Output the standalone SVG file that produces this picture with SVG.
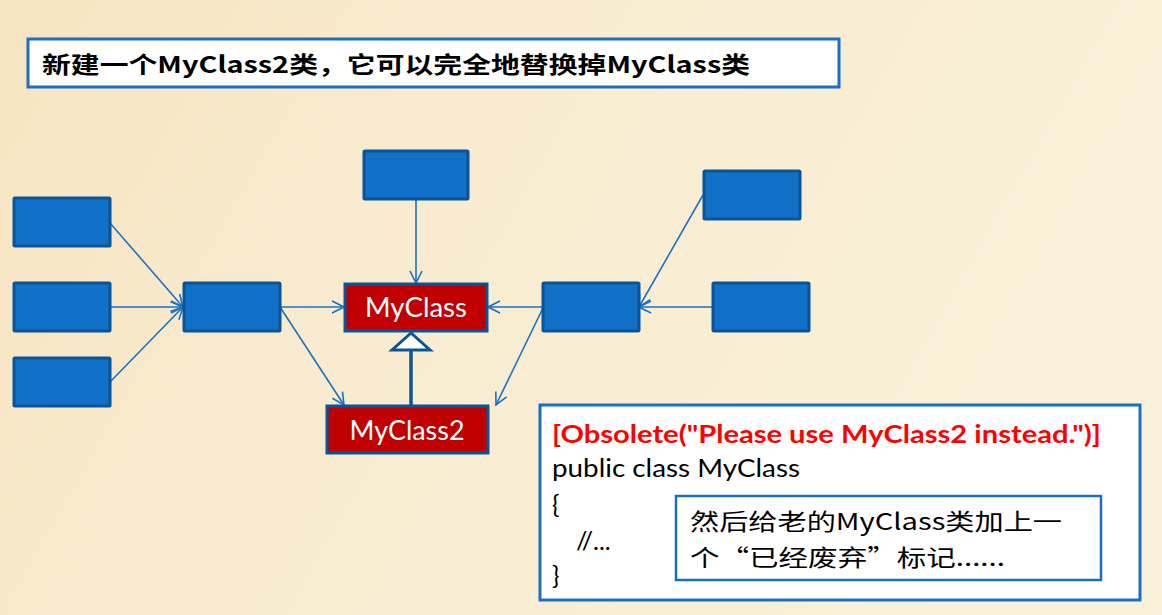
<svg xmlns="http://www.w3.org/2000/svg" width="1162" height="615" viewBox="0 0 1162 615">
<defs>
<linearGradient id="bg" x1="0" y1="0" x2="1" y2="0.3">
<stop offset="0" stop-color="#f7e4c0"/>
<stop offset="0.4" stop-color="#f8ebcf"/>
<stop offset="1" stop-color="#faf1da"/>
</linearGradient>
<marker id="arr" viewBox="0 0 14 14" refX="13" refY="7" markerWidth="14" markerHeight="14" markerUnits="userSpaceOnUse" orient="auto">
<path d="M1,1 L13,7 L1,13" fill="none" stroke="#1a72c6" stroke-width="1.6"/>
</marker>
</defs>
<style>
.blue{fill:#1170c7;stroke:#0b5597;stroke-width:3}
.red{fill:#c00000;stroke:#0b5597;stroke-width:3}
.con{stroke:#1a72c6;stroke-width:1.6;fill:none;marker-end:url(#arr)}
.lbl{font-family:Lato,"Open Sans","Liberation Sans",sans-serif;font-size:27px;fill:#ffffff;text-anchor:middle}
.code{font-family:Lato,"Open Sans","Liberation Sans",sans-serif;font-size:25px;fill:#000000}
.cjk{font-family:"Noto Sans CJK SC","Noto Sans CJK JP",sans-serif;font-size:23px;fill:#000000}
</style>
<rect x="0" y="0" width="1162" height="615" fill="url(#bg)"/>

<g id="title">
<rect x="28" y="39" width="811" height="48" fill="#ffffff" stroke="#1a6fc4" stroke-width="3"/>
<text x="42" y="73" font-family="'Noto Sans CJK SC','Noto Sans CJK JP',sans-serif" font-size="23" font-weight="bold" fill="#000" textLength="708" lengthAdjust="spacingAndGlyphs">新建一个MyClass2类，它可以完全地替换掉MyClass类</text>
</g>

<g id="connectors">
<line class="con" x1="110" y1="223" x2="183" y2="307"/>
<line class="con" x1="110" y1="307" x2="183" y2="307"/>
<line class="con" x1="110" y1="382" x2="183" y2="307"/>
<line class="con" x1="280" y1="307" x2="344" y2="307"/>
<line class="con" x1="280" y1="307" x2="344" y2="405"/>
<line class="con" x1="416" y1="199" x2="416" y2="283"/>
<line class="con" x1="543" y1="307" x2="488" y2="307"/>
<line class="con" x1="703" y1="195" x2="639" y2="307"/>
<line class="con" x1="713" y1="307" x2="639" y2="307"/>
<line class="con" x1="543" y1="308" x2="496" y2="405"/>
<line x1="411" y1="350" x2="411" y2="405" stroke="#0b5597" stroke-width="3.5"/>
<polygon points="411,333 392,350 430,350" fill="#ffffff" stroke="#0b5597" stroke-width="3"/>
</g>

<g id="nodeL1"><rect class="blue" x="14" y="198" width="96" height="48" rx="1"/></g>
<g id="nodeL2"><rect class="blue" x="14" y="283" width="96" height="48" rx="1"/></g>
<g id="nodeL3"><rect class="blue" x="14" y="358" width="96" height="48" rx="1"/></g>
<g id="nodeM"><rect class="blue" x="184" y="283" width="96" height="48" rx="1"/></g>
<g id="nodeTop"><rect class="blue" x="364" y="151" width="104" height="48" rx="1"/></g>
<g id="nodeR1"><rect class="blue" x="704" y="171" width="96" height="48" rx="1"/></g>
<g id="nodeR2"><rect class="blue" x="543" y="283" width="96" height="48" rx="1"/></g>
<g id="nodeR3"><rect class="blue" x="713" y="283" width="96" height="48" rx="1"/></g>

<g id="myclass">
<rect class="red" x="345" y="284" width="142" height="47"/>
<text class="lbl" x="416" y="317" textLength="102" lengthAdjust="spacingAndGlyphs">MyClass</text>
</g>
<g id="myclass2">
<rect class="red" x="327" y="406" width="161" height="47"/>
<text class="lbl" x="407" y="440" textLength="115" lengthAdjust="spacingAndGlyphs">MyClass2</text>
</g>

<g id="codebox">
<rect x="540" y="405" width="600" height="195" fill="#ffffff" stroke="#1a6fc4" stroke-width="3"/>
<text class="code" x="552" y="443" style="fill:#ff0000;font-weight:bold" textLength="549" lengthAdjust="spacingAndGlyphs">[Obsolete("Please use MyClass2 instead.")]</text>
<text class="code" x="552" y="477" textLength="248" lengthAdjust="spacingAndGlyphs">public class MyClass</text>
<text class="code" x="552" y="513">{</text>
<text class="code" x="576" y="550">//...</text>
<text class="code" x="552" y="584">}</text>
</g>

<g id="note">
<rect x="676" y="496" width="425" height="84" fill="#ffffff" stroke="#1a6fc4" stroke-width="2.5"/>
<text class="cjk" x="690" y="530" textLength="372" lengthAdjust="spacingAndGlyphs">然后给老的MyClass类加上一</text>
<text class="cjk" x="690" y="566" textLength="315" lengthAdjust="spacingAndGlyphs">个“已经废弃”标记......</text>
</g>
</svg>
